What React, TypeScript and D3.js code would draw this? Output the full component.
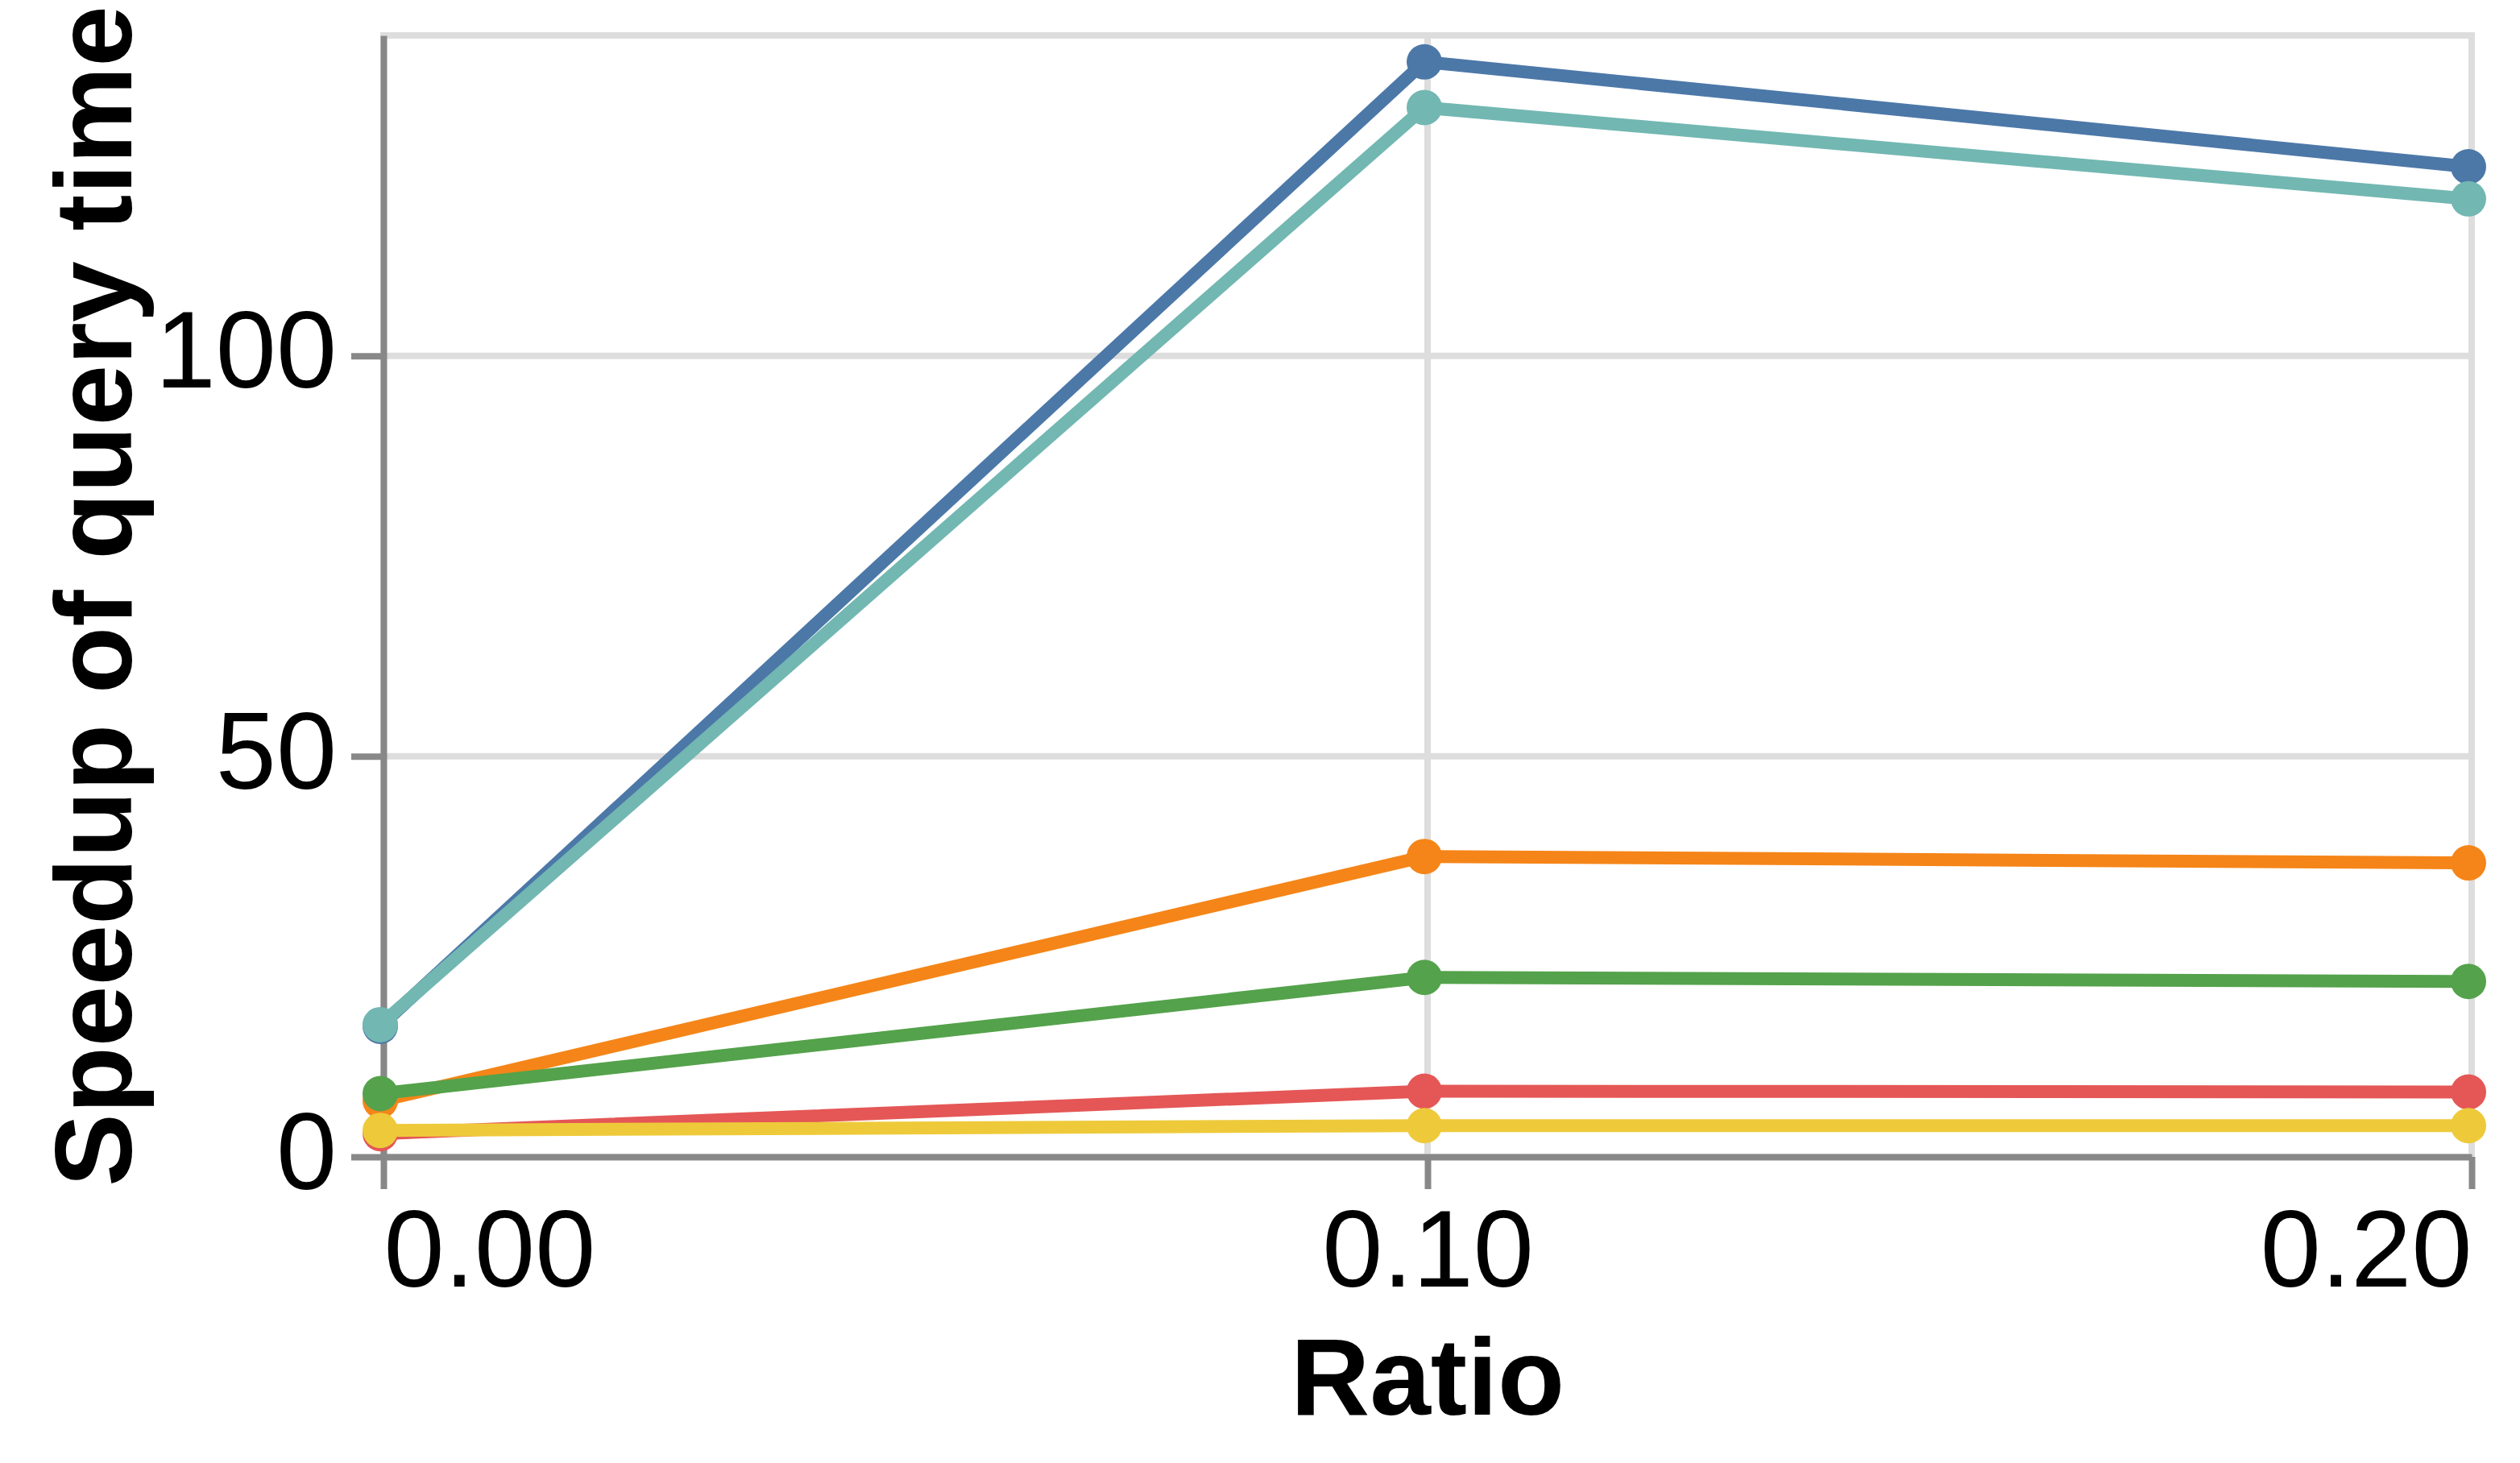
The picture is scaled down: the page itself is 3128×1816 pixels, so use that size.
'use strict';
import * as React from 'react';
import * as d3 from 'd3';

// ratio on the x axis, one array per series (speedup values)
const ratios = [0, 0.1, 0.2];
const seriesBlue = [16.3, 136.7, 123.6];
const seriesOrange = [7.0, 37.5, 36.7];
const seriesRed = [2.9, 8.2, 8.1];
const seriesTeal = [16.5, 131.0, 119.6];
const seriesGreen = [7.9, 22.4, 21.9];
const seriesYellow = [3.3, 3.9, 3.9];
const seriesColors = ['#4c78a8', '#f58518', '#e45756', '#72b7b2', '#54a24b', '#eeca3b'];

const xTicks = [0, 0.1, 0.2];
const yTicks = [0, 50, 100];
const yMax = 140;
const xTitle = 'Ratio';
const yTitle = 'Speedup of query time';

const FONT = '"Liberation Sans", Arial, Helvetica, sans-serif';

type Props = {};
type State = {};

export default class App extends React.Component<Props, State> {
  private readonly outerWidth = 3128;
  private readonly outerHeight = 1816;
  private readonly margin = { top: 44, right: 60, bottom: 380, left: 476 };
  private get width() { return this.outerWidth - this.margin.left - this.margin.right; }
  private get height() { return this.outerHeight - this.margin.top - this.margin.bottom; }

  private renderChart(el: SVGSVGElement | null): void {
    if(!el) { return; }
    el.innerHTML = '';
    const svg = d3.select(el);
    const series = [seriesBlue, seriesOrange, seriesRed, seriesTeal, seriesGreen, seriesYellow];

    const x = d3.scaleLinear().domain([0, 0.2]).range([0, this.width]);
    const y = d3.scaleLinear().domain([0, yMax]).range([this.height, 0]);

    const g = svg.append('g')
      .attr('transform', `translate(${this.margin.left},${this.margin.top})`);

    // grid + view frame
    const grid = g.append('g').attr('stroke', '#dddddd').attr('stroke-width', 8);
    grid.selectAll('.hgrid')
      .data(yTicks)
      .enter().append('line')
        .attr('x1', 0).attr('x2', this.width)
        .attr('y1', d => y(d)).attr('y2', d => y(d));
    grid.selectAll('.vgrid')
      .data(xTicks)
      .enter().append('line')
        .attr('y1', 0).attr('y2', this.height)
        .attr('x1', d => x(d)).attr('x2', d => x(d));
    g.append('rect')
      .attr('width', this.width)
      .attr('height', this.height)
      .attr('fill', 'none')
      .attr('stroke', '#dddddd')
      .attr('stroke-width', 8);

    // y axis
    const yAxis = g.append('g')
      .call(d3.axisLeft(y).tickValues(yTicks).tickFormat(d3.format('d')).tickSize(40).tickSizeOuter(0).tickPadding(18));
    // x axis
    const xAxis = g.append('g')
      .attr('transform', `translate(0,${this.height})`)
      .call(d3.axisBottom(x).tickValues(xTicks).tickFormat(d3.format('.2f')).tickSize(40).tickSizeOuter(0).tickPadding(25));

    [xAxis, yAxis].forEach(ax => {
      ax.attr('font-family', FONT).attr('font-size', 135);
      ax.select('.domain').attr('stroke', '#888888').attr('stroke-width', 8);
      ax.selectAll('.tick line').attr('stroke', '#888888').attr('stroke-width', 8);
      ax.selectAll('.tick text').attr('fill', '#000');
    });
    yAxis.selectAll('.tick text').attr('dy', '0.29em');
    xAxis.selectAll('.tick text')
      .attr('text-anchor', (_, i) => i === 0 ? 'start' : (i === xTicks.length - 1 ? 'end' : 'middle'));

    // titles
    g.append('text')
      .attr('x', this.width / 2)
      .attr('y', 1756 - this.margin.top)
      .attr('text-anchor', 'middle')
      .attr('font-family', FONT)
      .attr('font-weight', 'bold')
      .attr('font-size', 136)
      .text(xTitle);
    g.append('text')
      .attr('transform', `translate(${163 - this.margin.left},${this.height / 2}) rotate(-90)`)
      .attr('text-anchor', 'middle')
      .attr('font-family', FONT)
      .attr('font-weight', 'bold')
      .attr('font-size', 136)
      .text(yTitle);

    // lines and points (marks sit a few px left of the grid in the original)
    const line = d3.line<number>()
      .x((_, i) => x(ratios[i]))
      .y(d => y(d));
    const marks = g.append('g').attr('transform', 'translate(-4,0)');
    series.forEach((values, s) => {
      const sg = marks.append('g');
      sg.append('path')
        .datum(values)
        .attr('d', line)
        .attr('fill', 'none')
        .attr('stroke', seriesColors[s])
        .attr('stroke-width', 16);
      sg.selectAll('circle')
        .data(values)
        .enter().append('circle')
          .attr('cx', (_, i) => x(ratios[i]))
          .attr('cy', d => y(d))
          .attr('r', 22)
          .attr('fill', seriesColors[s]);
    });
  }

  render() {
    return (
      <svg
        width={this.outerWidth}
        height={this.outerHeight}
        style={{ position: 'absolute', left: 0, top: 0, background: '#fff' }}
        ref={svg => this.renderChart(svg)}
      ></svg>
    );
  }
};
